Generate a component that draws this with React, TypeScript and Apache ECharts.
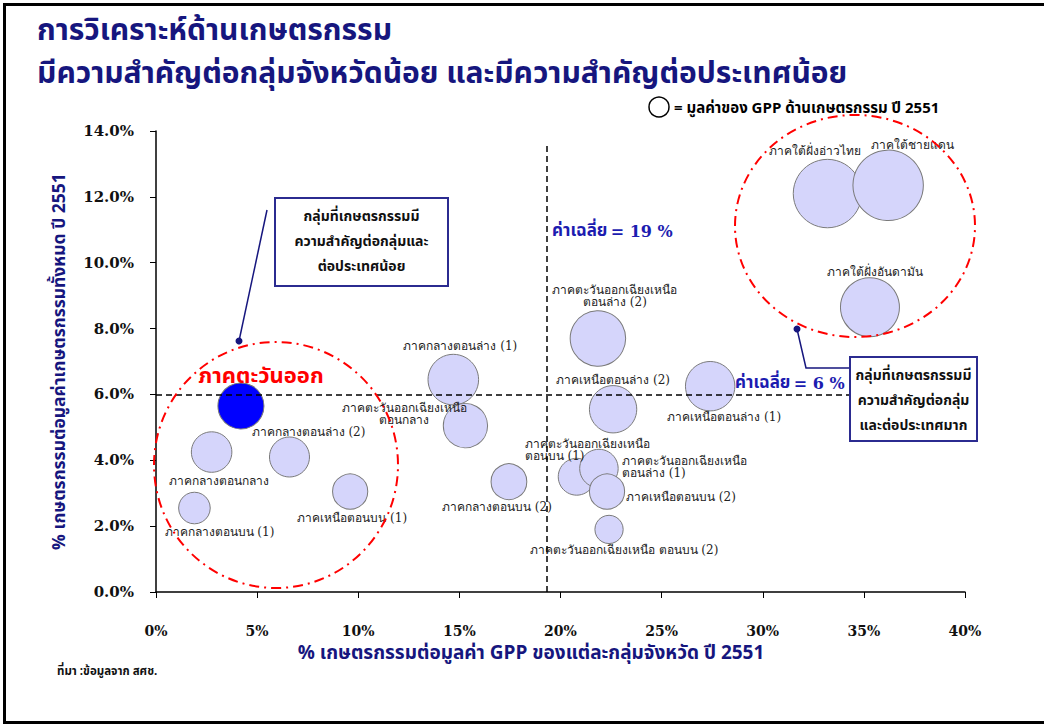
import React, { useEffect, useRef } from "react";
import * as echarts from "echarts";

// ---- data ----
const regionNames = [
  "ภาคตะวันออก",
  "ภาคกลางตอนกลาง",
  "ภาคกลางตอนล่าง (2)",
  "ภาคกลางตอนบน (1)",
  "ภาคเหนือตอนบน (1)",
  "ภาคกลางตอนล่าง (1)",
  "ภาคตะวันออกเฉียงเหนือ\nตอนกลาง",
  "ภาคกลางตอนบน (2)",
  "ภาคตะวันออกเฉียงเหนือ\nตอนล่าง (2)",
  "ภาคเหนือตอนล่าง (2)",
  "ภาคเหนือตอนล่าง (1)",
  "ภาคตะวันออกเฉียงเหนือ\nตอนบน (1)",
  "ภาคตะวันออกเฉียงเหนือ\nตอนล่าง (1)",
  "ภาคเหนือตอนบน (2)",
  "ภาคตะวันออกเฉียงเหนือ ตอนบน (2)",
  "ภาคใต้ฝั่งอ่าวไทย",
  "ภาคใต้ชายแดน",
  "ภาคใต้ฝั่งอันดามัน",
];
// % agriculture share of group GPP (x)
const shareOfGroupGpp = [4.2, 2.75, 6.6, 1.9, 9.6, 14.7, 15.3, 17.45, 21.85, 22.6, 27.4, 20.8, 21.9, 22.3, 22.4, 33.2, 36.2, 35.3];
// % share of national agriculture (y)
const shareOfNationalAgri = [5.65, 4.25, 4.1, 2.55, 3.05, 6.45, 5.05, 3.35, 7.7, 5.55, 6.25, 3.5, 3.75, 3.05, 1.9, 12.1, 12.35, 8.65];
// relative agricultural GPP value (bubble area)
const agriGppValue = [53, 41, 40, 25, 31, 64, 49, 32, 77, 56, 61, 34, 37, 31, 20, 117, 124, 87];

const xTicks = [0, 5, 10, 15, 20, 25, 30, 35, 40];
const yTicks = [0, 2, 4, 6, 8, 10, 12, 14];
const avgX = 19.3;
const avgY = 6;

// ---- layout config for labels (not data) ----
const labelOffsets: [number, number][] = [
  [20, -29], [7, 29], [19, -25], [25, 24], [2, 26], [7, -34], [-61, -12], [-12, 25],
  [17, -42], [0, -29], [14, 31], [-52, -27], [23, -2], [19, 5], [15, 21], [-12, -43], [24, -40], [5, -35],
];
const labelAligns = [
  "center", "center", "center", "center", "center", "center", "center", "center",
  "center", "center", "center", "left", "left", "left", "center", "center", "center", "center",
];

const NAVY = "#16167e";
const AVG_BLUE = "#1c1cb0";
const THAI = "'Noto Sans Thai', Loma, Garuda, Tahoma, 'Noto Sans', sans-serif";
const SERIF = "'DejaVu Serif', 'Liberation Serif', serif";

export default function App() {
  const ref = useRef<HTMLDivElement>(null);
  useEffect(() => {
    if (!ref.current) return;
    const chart = echarts.init(ref.current, null, { renderer: "svg" });
    const data = regionNames.map((name, i) => {
      const first = i === 0;
      return {
        name,
        value: [shareOfGroupGpp[i], shareOfNationalAgri[i], agriGppValue[i]],
        itemStyle: first ? { color: "#0000ff", borderColor: "#7a7a7a", borderWidth: 1 } : undefined,
        label: {
          show: true,
          position: "inside",
          offset: labelOffsets[i],
          align: labelAligns[i],
          verticalAlign: "middle",
          formatter: name,
          color: first ? "#ff0000" : "#222",
          fontSize: first ? 22 : 12,
          fontWeight: first ? "bold" : "normal",
          fontFamily: first ? THAI : SERIF,
          lineHeight: first ? 24 : 12,
        },
      };
    });

    const avgRich = {
      t: { fontFamily: THAI, fontSize: 17, fontWeight: "bold", fill: AVG_BLUE },
      n: { fontFamily: SERIF, fontSize: 16, fontWeight: "bold", fill: AVG_BLUE },
    };

    chart.setOption({
      animation: false,
      backgroundColor: "#fff",
      grid: { left: 156, right: 79, top: 131, bottom: 134 },
      xAxis: {
        type: "value",
        min: 0,
        max: 40,
        interval: 5,
        axisLine: { lineStyle: { color: "#000", width: 1.5 } },
        axisTick: { show: true, length: 6, lineStyle: { color: "#000" } },
        splitLine: { show: false },
        axisLabel: {
          margin: 32,
          color: "#111",
          fontWeight: "bold",
          fontSize: 14,
          fontFamily: SERIF,
          formatter: (v: number) => (xTicks.includes(v) ? v + "%" : ""),
        },
      },
      yAxis: {
        type: "value",
        min: 0,
        max: 14,
        interval: 2,
        axisLine: { show: true, lineStyle: { color: "#000", width: 1.5 } },
        axisTick: { show: true, length: 6, lineStyle: { color: "#000" } },
        splitLine: { show: false },
        axisLabel: {
          margin: 22,
          color: "#111",
          fontWeight: "bold",
          fontSize: 15,
          fontFamily: SERIF,
          formatter: (v: number) => (yTicks.includes(v) ? v.toFixed(1) + "%" : ""),
        },
        name: "% เกษตรกรรมต่อมูลค่าเกษตรกรรมทั้งหมด ปี 2551",
        nameLocation: "middle",
        nameGap: 88,
        nameTextStyle: { color: NAVY, fontSize: 17.5, fontWeight: "bold", fontFamily: THAI },
      },
      series: [
        {
          type: "scatter",
          data,
          symbolSize: (val: number[]) => 2 * Math.sqrt(val[2] * 10),
          itemStyle: { color: "#d5d5fb", borderColor: "#7a7a7a", borderWidth: 1, opacity: 1 },
          markLine: {
            silent: true,
            symbol: "none",
            label: { show: false },
            lineStyle: { color: "#000", type: [6, 4], width: 1.5 },
            data: [
              [{ coord: [avgX, 0] }, { coord: [avgX, 13.57] }],
              [{ coord: [0, avgY] }, { coord: [34.3, avgY] }],
            ],
          },
        },
      ],
      graphic: [
        // outer frame
        { type: "rect", shape: { x: 4.5, y: 4.5, width: 1100, height: 718 }, style: { fill: "none", stroke: "#000", lineWidth: 3 }, silent: true },
        // title
        { type: "text", x: 37, y: 31, style: { text: "การวิเคราะห์ด้านเกษตรกรรม", fill: NAVY, font: `bold 30px ${THAI}`, lineHeight: 30, verticalAlign: "middle" } },
        { type: "text", x: 37, y: 74, style: { text: "มีความสำคัญต่อกลุ่มจังหวัดน้อย และมีความสำคัญต่อประเทศน้อย", fill: NAVY, font: `bold 30px ${THAI}`, lineHeight: 30, verticalAlign: "middle" } },
        // legend
        { type: "circle", shape: { cx: 659, cy: 107, r: 10 }, style: { fill: "#fff", stroke: "#000", lineWidth: 1.5 } },
        { type: "text", x: 674, y: 108, style: { text: "= มูลค่าของ GPP ด้านเกษตรกรรม ปี 2551", fill: "#000", font: `bold 15px ${THAI}`, verticalAlign: "middle" } },
        // red ellipses
        { type: "ellipse", z: 50, shape: { cx: 276, cy: 465, rx: 122, ry: 123 }, style: { fill: "none", stroke: "#ff0000", lineWidth: 2, lineDash: [10, 5, 2, 5] } },
        { type: "ellipse", z: 50, shape: { cx: 855, cy: 226, rx: 120, ry: 111 }, style: { fill: "none", stroke: "#ff0000", lineWidth: 2, lineDash: [10, 5, 2, 5] } },
        // average labels
        { type: "text", x: 552, y: 231, style: { text: "{t|ค่าเฉลี่ย} {n|= 19 %}", rich: avgRich, fill: AVG_BLUE, verticalAlign: "middle" } },
        { type: "text", x: 735, y: 383, style: { text: "{t|ค่าเฉลี่ย} {n|= 6 %}", rich: avgRich, fill: AVG_BLUE, verticalAlign: "middle" } },
        // left annotation
        { type: "line", shape: { x1: 267, y1: 210, x2: 239, y2: 341 }, style: { stroke: NAVY, lineWidth: 1.5 } },
        { type: "circle", shape: { cx: 239, cy: 341, r: 3.5 }, style: { fill: NAVY } },
        { type: "rect", z: 60, shape: { x: 275, y: 198, width: 173, height: 88 }, style: { fill: "#fff", stroke: "#2b2b90", lineWidth: 2 } },
        { type: "text", z: 61, x: 361.5, y: 241, style: { text: "กลุ่มที่เกษตรกรรมมี\nความสำคัญต่อกลุ่มและ\nต่อประเทศน้อย", fill: "#111", font: `bold 14px ${THAI}`, align: "center", verticalAlign: "middle", lineHeight: 25 } },
        // right annotation
        { type: "polyline", shape: { points: [[797, 329], [806, 368], [850, 368]] }, style: { stroke: NAVY, lineWidth: 1.5, fill: "none" } },
        { type: "circle", shape: { cx: 797, cy: 329, r: 3.5 }, style: { fill: NAVY } },
        { type: "rect", z: 60, shape: { x: 850, y: 357, width: 127, height: 84 }, style: { fill: "#fff", stroke: "#2b2b90", lineWidth: 2 } },
        { type: "text", z: 61, x: 913.5, y: 400, style: { text: "กลุ่มที่เกษตรกรรมมี\nความสำคัญต่อกลุ่ม\nและต่อประเทศมาก", fill: "#111", font: `bold 14px ${THAI}`, align: "center", verticalAlign: "middle", lineHeight: 25 } },
        // x axis title
        { type: "text", x: 531, y: 653, style: { text: "% เกษตรกรรมต่อมูลค่า GPP ของแต่ละกลุ่มจังหวัด ปี 2551", fill: NAVY, font: `bold 19px ${THAI}`, align: "center", verticalAlign: "middle" } },
        // source
        { type: "text", x: 57, y: 671, style: { text: "ที่มา :ข้อมูลจาก สศช.", fill: "#111", font: `bold 11.5px ${THAI}`, verticalAlign: "middle" } },
      ],
    });
    return () => chart.dispose();
  }, []);
  return <div ref={ref} style={{ position: "absolute", left: 0, top: 0, width: 1044, height: 726 }} />;
}
